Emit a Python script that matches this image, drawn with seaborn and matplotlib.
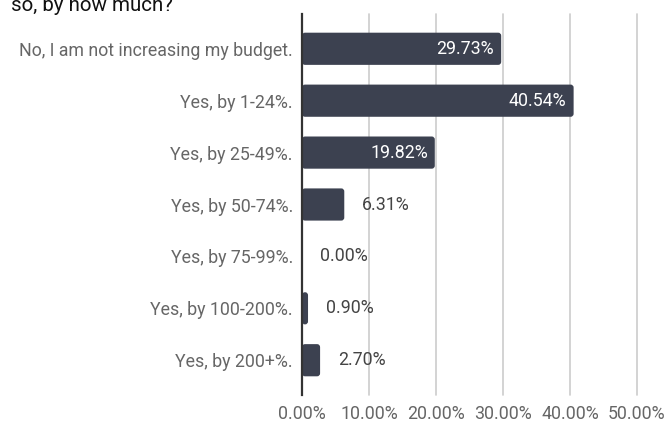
import matplotlib
matplotlib.use("Agg")
import matplotlib.pyplot as plt
from matplotlib.patches import FancyBboxPatch
import seaborn as sns
import pandas as pd

categories = [
    "No, I am not increasing my budget.",
    "Yes, by 1-24%.",
    "Yes, by 25-49%.",
    "Yes, by 50-74%.",
    "Yes, by 75-99%.",
    "Yes, by 100-200%.",
    "Yes, by 200+%.",
]
values = [29.73, 40.54, 19.82, 6.31, 0.00, 0.90, 2.70]
x_ticks = [0, 10, 20, 30, 40, 50]
x_tick_labels = ["0.00%", "10.00%", "20.00%", "30.00%", "40.00%", "50.00%"]
title_line = "so, by how much?"

df = pd.DataFrame({"answer": categories, "share": values})

sns.set_theme(style="white")
plt.rcParams["font.family"] = ["Roboto", "DejaVu Sans"]

bar_color = "#3c4150"
text_gray = "#666666"
fs = 12.8

fig = plt.figure(figsize=(6.66, 4.24), dpi=100)
ax = fig.add_axes([302 / 666, 1 - 395 / 424, (637 - 302) / 666, (395 - 14) / 424])

sns.barplot(data=df, x="share", y="answer", orient="h", color=bar_color,
            saturation=1, width=0.62, ax=ax)

# swap plain rectangles for ones with softly rounded corners
for p in list(ax.patches):
    x0, y0, w, h = p.get_x(), p.get_y(), p.get_width(), p.get_height()
    p.remove()
    if w <= 0:
        continue
    rs = min(0.45, w / 2)
    ax.add_patch(FancyBboxPatch((x0, y0), w, h,
                                boxstyle=f"round,pad=0,rounding_size={rs}",
                                mutation_aspect=0.13, facecolor=bar_color,
                                edgecolor="none", zorder=3))

ax.set_xlim(0, 50)
ax.set_ylim(6.67, -0.67)
ax.set_xticks(x_ticks)
ax.set_xticklabels(x_tick_labels)
ax.set_xlabel("")
ax.set_ylabel("")
ax.xaxis.grid(True, color="#cccccc", linewidth=1.2)
for gl in ax.get_xgridlines():
    gl.set_clip_on(False)
ax.set_axisbelow(True)
for s in ["top", "right", "bottom"]:
    ax.spines[s].set_visible(False)
ax.spines["left"].set_color("#333333")
ax.spines["left"].set_linewidth(1.6)
ax.spines["left"].set_zorder(5)
ax.tick_params(axis="x", length=0, pad=7, labelsize=fs, labelcolor=text_gray)
ax.tick_params(axis="y", length=0, pad=6.5, labelsize=fs, labelcolor=text_gray)

for i, v in enumerate(values):
    label = f"{v:.2f}%"
    if v >= 15:
        ax.text(v - 1.05, i, label, ha="right", va="center", color="white",
                fontsize=fs, zorder=6)
    else:
        ax.text(v + 2.7, i, label, ha="left", va="center", color="#444444",
                fontsize=fs, zorder=6)

fig.text(11 / 666, 1 - 11 / 424, title_line, ha="left", va="baseline",
         fontsize=14.8, color="#111111")

fig.savefig("out.png", dpi=100)
